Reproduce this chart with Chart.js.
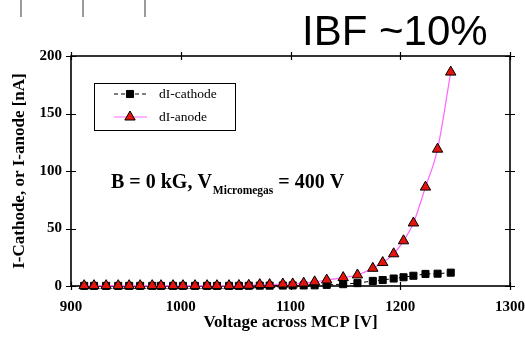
<!DOCTYPE html>
<html>
<head>
<meta charset="utf-8">
<script src="https://cdn.jsdelivr.net/npm/chart.js@4/dist/chart.umd.min.js"></script>
<style>
  html, body { margin: 0; padding: 0; background: #fff; }
  #wrap { width: 525px; height: 339px; }
</style>
</head>
<body>
<div id="wrap"><canvas id="c" width="525" height="339"></canvas></div>
<script>
// Voltage across the MCP [V]
const voltages = [912, 921, 932, 943, 953, 963, 974, 982, 993, 1002, 1013, 1024, 1033, 1044, 1053,
                  1062, 1072, 1081, 1093, 1102, 1112, 1122, 1133, 1148, 1161, 1175, 1184, 1194,
                  1203, 1212, 1223, 1234, 1246];
// Cathode current difference [nA]
const cathodeCurrent = [0.1, 0.1, 0.1, 0.1, 0.1, 0.1, 0.1, 0.1, 0.1, 0.1, 0.1, 0.1, 0.1, 0.1, 0.1,
                        0.2, 0.3, 0.3, 0.4, 0.5, 0.5, 0.6, 1.0, 1.6, 2.5, 4.4, 5.2, 6.5, 7.6, 8.9,
                        10.5, 10.7, 11.6];
// Anode current difference [nA]
const anodeCurrent = [0.3, 0.3, 0.3, 0.3, 0.3, 0.3, 0.3, 0.3, 0.3, 0.3, 0.3, 0.3, 0.3, 0.3, 0.4,
                      0.6, 1.2, 1.2, 1.7, 1.8, 2.5, 3.6, 5.2, 7.3, 9.6, 15.4, 20.4, 28, 39.3, 54.8,
                      86, 119, 186];
const xTicks = [900, 1000, 1100, 1200, 1300];
const yTicks = [0, 50, 100, 150, 200];
const seriesNames = ['dI-cathode', 'dI-anode'];

const SERIF = "'Liberation Serif', 'Times New Roman', serif";
const SANS = "'Liberation Sans', Arial, sans-serif";

const cathodeStyle = {
  pointStyle: 'rect', radius: 5, backgroundColor: '#000', borderColor: '#000', borderWidth: 1
};
const anodeStyle = {
  pointStyle: 'triangle', radius: 6, backgroundColor: '#e3140e', borderColor: '#000', borderWidth: 1
};

// Boxed axes with ticks crossing every side
const framePlugin = {
  id: 'frame',
  beforeDatasetsDraw(chart) {
    const { ctx, chartArea: a, scales: { x, y } } = chart;
    ctx.save();
    ctx.strokeStyle = '#000';
    ctx.lineWidth = 1.6;
    ctx.strokeRect(a.left, a.top, a.right - a.left, a.bottom - a.top);
    ctx.lineWidth = 1.2;
    ctx.beginPath();
    xTicks.forEach(v => {
      const px = Math.round(x.getPixelForValue(v)) + 0.5;
      ctx.moveTo(px, a.top - 4); ctx.lineTo(px, a.top + 4);
      ctx.moveTo(px, a.bottom - 4); ctx.lineTo(px, a.bottom + 4);
    });
    yTicks.forEach(v => {
      const py = Math.round(y.getPixelForValue(v)) + 0.5;
      ctx.moveTo(a.left - 5, py); ctx.lineTo(a.left + 5, py);
      ctx.moveTo(a.right - 5, py); ctx.lineTo(a.right + 5, py);
    });
    ctx.stroke();
    ctx.restore();
  }
};

function drawMarker(ctx, style, x, y) {
  ctx.save();
  ctx.fillStyle = style.backgroundColor;
  ctx.strokeStyle = style.borderColor;
  ctx.lineWidth = style.borderWidth;
  Chart.helpers.drawPoint(ctx, { pointStyle: style.pointStyle, radius: style.radius, rotation: 0, borderWidth: style.borderWidth }, x, y);
  ctx.restore();
}

// Legend box, condition label, headline and the small marks at the top
const decorPlugin = {
  id: 'decor',
  afterDatasetsDraw(chart) {
    const { ctx } = chart;
    ctx.save();

    // short grey strokes along the top edge
    ctx.strokeStyle = '#7a7a7a';
    ctx.lineWidth = 1.5;
    ctx.beginPath();
    [21, 83, 145].forEach(px => { ctx.moveTo(px, 0); ctx.lineTo(px, 17); });
    ctx.stroke();

    // headline
    ctx.fillStyle = '#000';
    ctx.font = `42px ${SANS}`;
    ctx.textBaseline = 'alphabetic';
    ctx.textAlign = 'left';
    ctx.fillText('IBF ~10%', 302, 45);

    // legend
    ctx.lineWidth = 1;
    ctx.strokeStyle = '#000';
    ctx.strokeRect(94.5, 83.5, 141, 47);
    const ly = [94, 117];
    ctx.beginPath();
    ctx.setLineDash([4, 3]);
    ctx.moveTo(114, ly[0]); ctx.lineTo(147, ly[0]);
    ctx.stroke();
    ctx.setLineDash([]);
    ctx.strokeStyle = '#ff66ff';
    ctx.beginPath();
    ctx.moveTo(114, ly[1]); ctx.lineTo(147, ly[1]);
    ctx.stroke();
    drawMarker(ctx, cathodeStyle, 130, ly[0]);
    drawMarker(ctx, anodeStyle, 130, ly[1]);
    ctx.fillStyle = '#000';
    ctx.font = `13.5px ${SERIF}`;
    ctx.textBaseline = 'middle';
    ctx.fillText(seriesNames[0], 159, ly[0]);
    ctx.fillText(seriesNames[1], 159, ly[1]);

    // measurement conditions
    ctx.textBaseline = 'alphabetic';
    let tx = 111;
    const base = 188;
    ctx.font = `bold 20px ${SERIF}`;
    const p1 = 'B = 0 kG, V';
    ctx.fillText(p1, tx, base);
    tx += ctx.measureText(p1).width;
    ctx.font = `bold 11.5px ${SERIF}`;
    const sub = 'Micromegas';
    ctx.fillText(sub, tx + 1, base + 6);
    tx += ctx.measureText(sub).width + 1;
    ctx.font = `bold 20px ${SERIF}`;
    ctx.fillText(' = 400 V', tx, base);

    ctx.restore();
  }
};

const plainNumber = v => String(v);

new Chart(document.getElementById('c'), {
  type: 'line',
  data: {
    labels: voltages,
    datasets: [
      {
        label: seriesNames[1],
        data: voltages.map((v, i) => ({ x: v, y: anodeCurrent[i] })),
        borderColor: '#ff66ff',
        borderWidth: 1.2,
        tension: 0.4,
        cubicInterpolationMode: 'monotone',
        pointStyle: anodeStyle.pointStyle,
        pointRadius: anodeStyle.radius,
        pointBackgroundColor: anodeStyle.backgroundColor,
        pointBorderColor: anodeStyle.borderColor,
        pointBorderWidth: anodeStyle.borderWidth,
        clip: false,
        order: 1
      },
      {
        label: seriesNames[0],
        data: voltages.map((v, i) => ({ x: v, y: cathodeCurrent[i] })),
        borderColor: '#000',
        borderWidth: 1,
        borderDash: [4, 3],
        tension: 0,
        pointStyle: cathodeStyle.pointStyle,
        pointRadius: cathodeStyle.radius,
        pointBackgroundColor: cathodeStyle.backgroundColor,
        pointBorderColor: cathodeStyle.borderColor,
        pointBorderWidth: cathodeStyle.borderWidth,
        clip: false,
        order: 2
      }
    ]
  },
  options: {
    responsive: false,
    animation: false,
    layout: { padding: { top: 56, right: 15, left: 0, bottom: 0 } },
    plugins: { legend: { display: false }, tooltip: { enabled: false } },
    scales: {
      x: {
        type: 'linear',
        min: 900, max: 1300,
        afterBuildTicks: s => { s.ticks = xTicks.map(v => ({ value: v })); },
        afterFit: s => { s.height = 53; s.paddingLeft = 0; s.paddingRight = 0; },
        grid: { display: true, drawOnChartArea: false, drawTicks: false, color: 'rgba(0,0,0,0)' },
        border: { display: false },
        ticks: { color: '#000', padding: 12, maxRotation: 0, callback: plainNumber,
                 font: { family: SERIF, size: 15, weight: 'bold' } },
        title: {
          display: true, text: 'Voltage across MCP [V]', color: '#000',
          padding: { top: 0, bottom: 6 },
          font: { family: SERIF, size: 17, weight: 'bold' }
        }
      },
      y: {
        type: 'linear',
        min: 0, max: 200,
        afterBuildTicks: s => { s.ticks = yTicks.map(v => ({ value: v })); },
        afterFit: s => { s.width = 71; s.paddingTop = 0; s.paddingBottom = 0; },
        grid: { display: true, drawOnChartArea: false, drawTicks: false, color: 'rgba(0,0,0,0)' },
        border: { display: false },
        ticks: { color: '#000', padding: 9, callback: plainNumber,
                 font: { family: SERIF, size: 15, weight: 'bold' } },
        title: {
          display: true, text: 'I-Cathode, or I-anode [nA]', color: '#000',
          padding: { top: 9, bottom: 0 },
          font: { family: SERIF, size: 17, weight: 'bold' }
        }
      }
    }
  },
  plugins: [framePlugin, decorPlugin]
});
</script>
</body>
</html>
